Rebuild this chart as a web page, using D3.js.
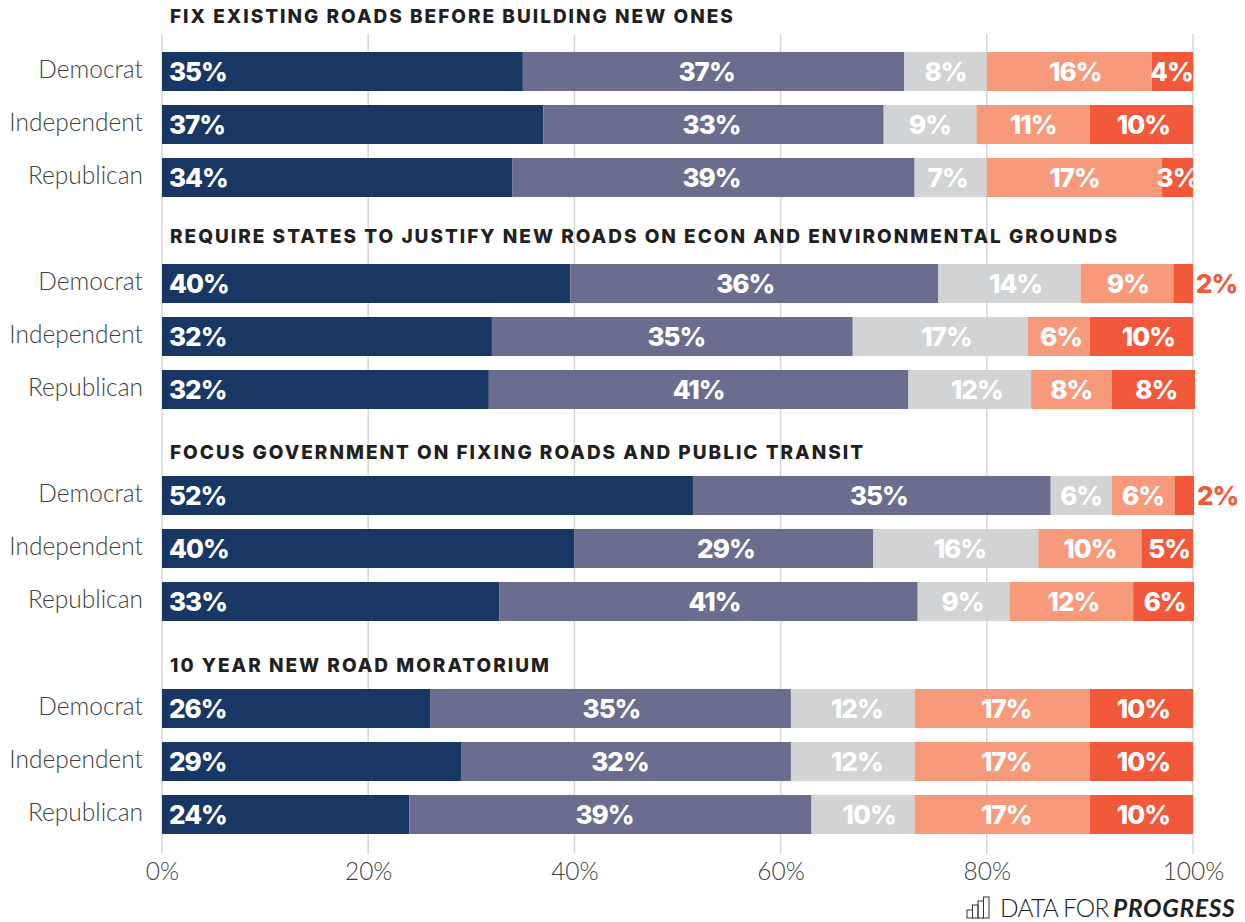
<!DOCTYPE html>
<html>
<head>
<meta charset="utf-8">
<script src="https://cdn.jsdelivr.net/npm/d3@7"></script>
<style>
html,body{margin:0;background:#fff}
svg{display:block}
text{font-family:Lato,"Open Sans",sans-serif}
</style>
</head>
<body>
<script>
// Survey responses by party on four road-policy proposals (percent of respondents).
const parties = ["Democrat", "Independent", "Republican"];
const titles = [
  "FIX EXISTING ROADS BEFORE BUILDING NEW ONES",
  "REQUIRE STATES TO JUSTIFY NEW ROADS ON ECON AND ENVIRONMENTAL GROUNDS",
  "FOCUS GOVERNMENT ON FIXING ROADS AND PUBLIC TRANSIT",
  "10 YEAR NEW ROAD MORATORIUM"
];
const strongSupport = [[35,37,34],[39.6,32,31.7],[51.5,40,32.7],[26,29,24]];
const someSupport   = [[37,33,39],[35.7,35,40.7],[34.7,29,40.6],[35,32,39]];
const notSure       = [[8,9,7],[13.8,17,11.9],[5.9,16,8.9],[12,12,10]];
const someOppose    = [[16,11,17],[9,6,7.8],[6.1,10,12],[17,17,17]];
const strongOppose  = [[4,10,3],[1.9,10,8.1],[1.9,5,5.9],[10,10,10]];
const seriesValues = [strongSupport, someSupport, notSure, someOppose, strongOppose];
const seriesColors = ["#193764", "#6a6d8e", "#d1d3d4", "#f79a7b", "#f2583a"];
const xTicks = [0, 20, 40, 60, 80, 100];

// Hand placement of value labels relative to their segment centres, in pixels.
const labelNudge = [
  [[0,-7,0,6,-1],[0,-2,0,0,2],[0,-2,-3,0,0]],
  [[0,-9,6,1,0],[0,4,6,2,7],[0,0,7,0,3]],
  [[0,7,0,0,0],[0,2,4,0,2],[0,6,-1,2,1]],
  [[0,1,4,4,2],[0,-6,4,4,2],[0,-6,6,4,2]]
];

const W = 1245, H = 922;
const x = d3.scaleLinear().domain([0, 100]).range([162, 1193]);
const facetTop = [52, 264, 476, 689];
const titleBaseline = [23, 243, 459, 672];
const facetH = 145, gapShare = 14 / 53;

const svg = d3.select("body").append("svg").attr("width", W).attr("height", H);

// Vertical gridlines sit behind everything.
svg.append("g").selectAll("line").data(xTicks).join("line")
  .attr("x1", d => x(d)).attr("x2", d => x(d))
  .attr("y1", 34).attr("y2", 854)
  .attr("stroke", "#d6d6d6").attr("stroke-width", 1.5);

const fmt = d => Math.round(d) + "%";

titles.forEach((title, f) => {
  const y = d3.scaleBand().domain(parties)
    .range([facetTop[f], facetTop[f] + facetH])
    .paddingInner(gapShare).paddingOuter(0);
  const g = svg.append("g");

  g.append("text").attr("x", 170).attr("y", titleBaseline[f])
    .style("font-family", "Inter")
    .attr("font-size", 19).attr("font-weight", 800)
    .attr("letter-spacing", 2).attr("fill", "#231f20").text(title);

  parties.forEach((p, r) => {
    const top = y(p);
    const mid = top + y.bandwidth() / 2;
    g.append("text").attr("x", 143).attr("y", mid - 2)
      .attr("dy", "0.33em").attr("text-anchor", "end")
      .attr("font-size", 24.5).attr("font-weight", 300).attr("fill", "#404040").text(p);

    let cum = 0;
    seriesValues.forEach((s, k) => {
      const v = s[f][r];
      const x0 = x(cum), x1 = x(cum + v);
      g.append("rect").attr("x", x0).attr("y", top)
        .attr("width", x1 - x0).attr("height", y.bandwidth()).attr("fill", seriesColors[k]);
      cum += v;
      const outside = k === 4 && v < 2.5;
      const first = k === 0;
      g.append("text")
        .attr("x", first ? x0 + 7 : outside ? x1 + 3 : (x0 + x1) / 2 + labelNudge[f][r][k])
        .attr("y", mid).attr("dy", "0.36em")
        .attr("text-anchor", first || outside ? "start" : "middle")
        .style("font-family", "Inter")
        .attr("font-size", 26).attr("font-weight", 800).attr("letter-spacing", -1)
        .attr("fill", outside ? seriesColors[4] : "#fff").text(fmt(v));
    });
  });
});

// Percent axis along the bottom.
const axis = svg.append("g").attr("transform", "translate(0,852)")
  .call(d3.axisBottom(x).tickValues(xTicks).tickFormat(d => d + "%").tickSize(0).tickPadding(11));
axis.select(".domain").remove();
axis.selectAll("text").attr("font-size", 24.5).attr("font-weight", 300)
  .attr("fill", "#404040").style("font-family", "Lato");

// Footer wordmark with a small bar-chart glyph.
const glyph = [8, 13, 17, 21];
const gx = d3.scaleBand().domain(d3.range(4)).range([967, 989]);
svg.append("g").selectAll("rect").data(glyph).join("rect")
  .attr("x", (d, i) => gx(i)).attr("y", d => 918 - d)
  .attr("width", gx.bandwidth()).attr("height", d => d)
  .attr("fill", "none").attr("stroke", "#333").attr("stroke-width", 1);
const word = svg.append("text").attr("x", 1000).attr("y", 917)
  .attr("font-size", 24.5).attr("fill", "#222");
word.append("tspan").attr("font-weight", 300).attr("letter-spacing", -0.8).text("DATA FOR");
word.append("tspan").attr("x", 1113).attr("font-weight", 700).attr("font-style", "italic")
  .attr("letter-spacing", 0.7).text("PROGRESS");
</script>
</body>
</html>
